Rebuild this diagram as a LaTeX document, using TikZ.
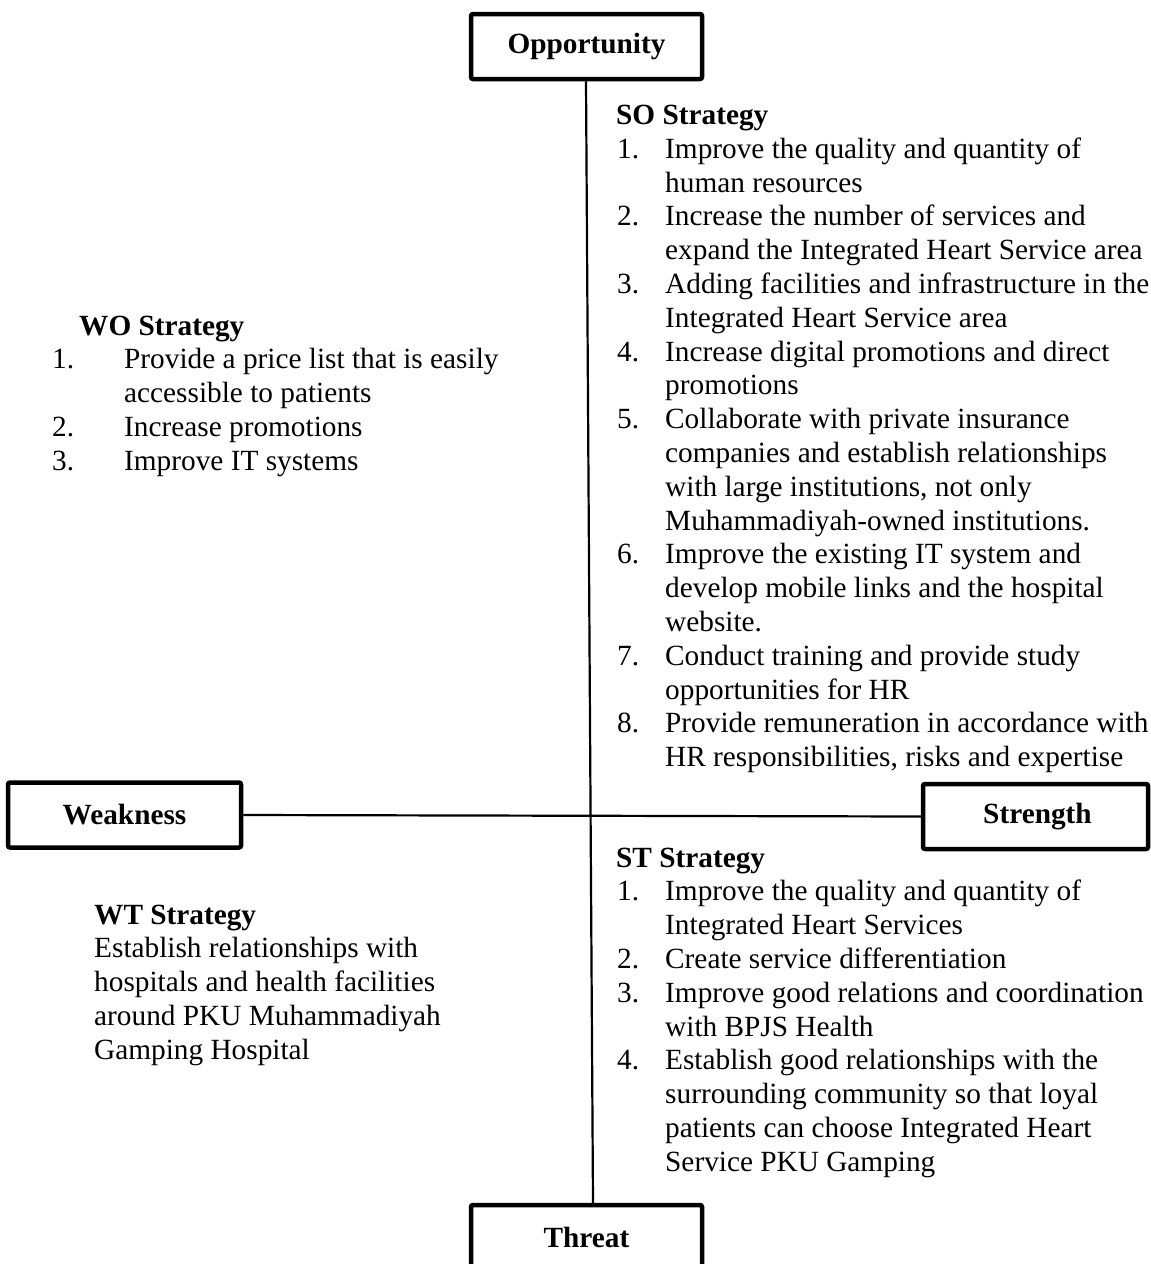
\documentclass[tikz,border=0pt]{standalone}
\usepackage{fontspec}
\setmainfont{Liberation Serif}
\usepackage{array}
\begin{document}
\begin{tikzpicture}[x=1pt,y=-1pt,
  txt/.style={inner sep=0pt,anchor=base west,font=\fontsize{29.3}{33.8}\selectfont},
  corner/.style={draw,line width=4.5pt,rounded corners=2pt,inner sep=0pt,
    minimum height=65pt,font=\fontsize{29.3}{33.8}\selectfont\bfseries},
  link/.style={line width=2.2pt}]
\path[use as bounding box] (0,0) rectangle (1151,1264);
\clip (0,0) rectangle (1151,1264);

\node[corner,minimum width=231pt] (opp) at (586.5,46.5) {\raisebox{-2pt}{Opportunity}};
\node[corner,minimum width=233pt] (weak) at (124.5,815) {\raisebox{1pt}{Weakness}};
\node[corner,minimum width=225pt] (str) at (1035.5,816.5) {\raisebox{-2pt}{\hspace{4pt}Strength}};
\node[corner,minimum width=231pt] (thr) at (586.5,1237.5) {Threat};

\draw[link] ([xshift=-0.5pt]opp.south) -- ([xshift=6.5pt]thr.north);
\draw[link] (weak.east) -- (str.west);

% SO
\node[txt] (sohead) at (616,124.5) {\textbf{SO Strategy}};
\node[txt] (solist) at (617,158.3) {\begin{tabular}[t]{@{}p{48pt}@{}l@{}}
1. & Improve the quality and quantity of\\
   & human resources\\
2. & Increase the number of services and\\
   & expand the Integrated Heart Service area\\
3. & Adding facilities and infrastructure in the\\
   & Integrated Heart Service area\\
4. & Increase digital promotions and direct\\
   & promotions\\
5. & Collaborate with private insurance\\
   & companies and establish relationships\\
   & with large institutions, not only\\
   & Muhammadiyah-owned institutions.\\
6. & Improve the existing IT system and\\
   & develop mobile links and the hospital\\
   & website.\\
7. & Conduct training and provide study\\
   & opportunities for HR\\
8. & Provide remuneration in accordance with\\
   & HR responsibilities, risks and expertise
\end{tabular}};

% WO
\node[txt] (wohead) at (79,335) {\textbf{WO Strategy}};
\node[txt] (wolist) at (52,368.8) {\begin{tabular}[t]{@{}p{72pt}@{}l@{}}
1. & Provide a price list that is easily\\
   & accessible to patients\\
2. & Increase promotions\\
3. & Improve IT systems
\end{tabular}};

% ST
\node[txt] (sthead) at (616,867) {\textbf{ST Strategy}};
\node[txt] (stlist) at (617,900.8) {\begin{tabular}[t]{@{}p{48pt}@{}l@{}}
1. & Improve the quality and quantity of\\
   & Integrated Heart Services\\
2. & Create service differentiation\\
3. & Improve good relations and coordination\\
   & with BPJS Health\\
4. & Establish good relationships with the\\
   & surrounding community so that loyal\\
   & patients can choose Integrated Heart\\
   & Service PKU Gamping
\end{tabular}};

% WT
\node[txt] (wthead) at (94,924) {\textbf{WT Strategy}};
\node[txt] (wttext) at (94,957.8) {\begin{tabular}[t]{@{}l@{}}
Establish relationships with\\
hospitals and health facilities\\
around PKU Muhammadiyah\\
Gamping Hospital
\end{tabular}};
\end{tikzpicture}
\end{document}
